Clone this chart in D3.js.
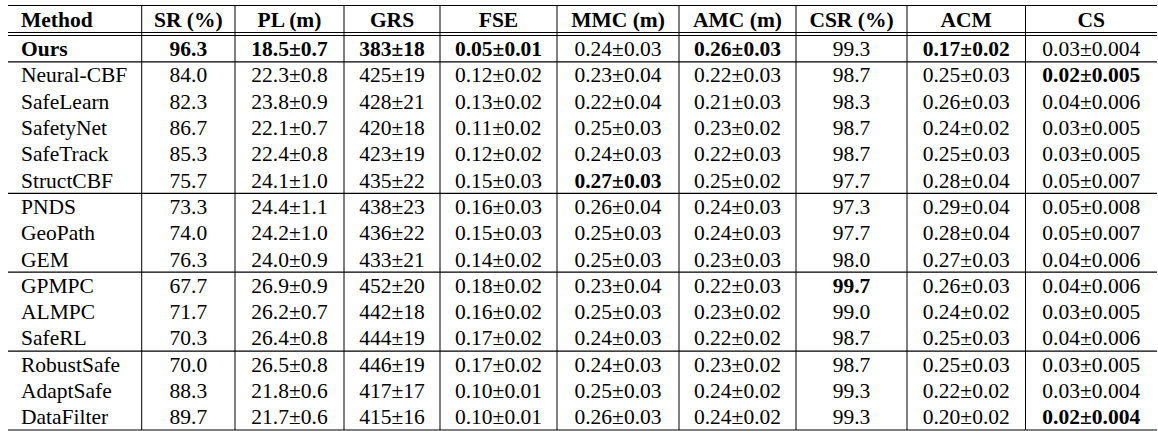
<!DOCTYPE html>
<html><head><meta charset="utf-8">
<script src="https://cdn.jsdelivr.net/npm/d3@7"></script>
<style>body{margin:0;background:#fff}</style>
</head><body><svg id="c" width="1158" height="431"></svg>
<script>
const headers = ["Method","SR (%)","PL (m)","GRS","FSE","MMC (m)","AMC (m)","CSR (%)","ACM","CS"];
const methods = ["Ours","Neural-CBF","SafeLearn","SafetyNet","SafeTrack","StructCBF","PNDS","GeoPath","GEM","GPMPC","ALMPC","SafeRL","RobustSafe","AdaptSafe","DataFilter"];
const SR  = ["96.3","84.0","82.3","86.7","85.3","75.7","73.3","74.0","76.3","67.7","71.7","70.3","70.0","88.3","89.7"];
const PL  = ["18.5±0.7","22.3±0.8","23.8±0.9","22.1±0.7","22.4±0.8","24.1±1.0","24.4±1.1","24.2±1.0","24.0±0.9","26.9±0.9","26.2±0.7","26.4±0.8","26.5±0.8","21.8±0.6","21.7±0.6"];
const GRS = ["383±18","425±19","428±21","420±18","423±19","435±22","438±23","436±22","433±21","452±20","442±18","444±19","446±19","417±17","415±16"];
const FSE = ["0.05±0.01","0.12±0.02","0.13±0.02","0.11±0.02","0.12±0.02","0.15±0.03","0.16±0.03","0.15±0.03","0.14±0.02","0.18±0.02","0.16±0.02","0.17±0.02","0.17±0.02","0.10±0.01","0.10±0.01"];
const MMC = ["0.24±0.03","0.23±0.04","0.22±0.04","0.25±0.03","0.24±0.03","0.27±0.03","0.26±0.04","0.25±0.03","0.25±0.03","0.23±0.04","0.25±0.03","0.24±0.03","0.24±0.03","0.25±0.03","0.26±0.03"];
const AMC = ["0.26±0.03","0.22±0.03","0.21±0.03","0.23±0.02","0.22±0.03","0.25±0.02","0.24±0.03","0.24±0.03","0.23±0.03","0.22±0.03","0.23±0.02","0.22±0.02","0.23±0.02","0.24±0.02","0.24±0.02"];
const CSR = ["99.3","98.7","98.3","98.7","98.7","97.7","97.3","97.7","98.0","99.7","99.0","98.7","98.7","99.3","99.3"];
const ACM = ["0.17±0.02","0.25±0.03","0.26±0.03","0.24±0.02","0.25±0.03","0.28±0.04","0.29±0.04","0.28±0.04","0.27±0.03","0.26±0.03","0.24±0.02","0.25±0.03","0.25±0.03","0.22±0.02","0.20±0.02"];
const CS  = ["0.03±0.004","0.02±0.005","0.04±0.006","0.03±0.005","0.03±0.005","0.05±0.007","0.05±0.008","0.05±0.007","0.04±0.006","0.04±0.006","0.03±0.005","0.04±0.006","0.03±0.005","0.03±0.004","0.02±0.004"];
// bold cells: [row, col]
const boldCells = [[0,0],[0,1],[0,2],[0,3],[0,4],[0,6],[0,8],[1,9],[5,5],[9,7],[14,9]];
const groupEnds = [0,5,8,11];
const colEdges = [8,141.7,235,344,440,557,679,796,907,1025.5,1157];

const cols = [methods,SR,PL,GRS,FSE,MMC,AMC,CSR,ACM,CS];
const svg = d3.select("#c");
const font = "'Liberation Serif','Times New Roman',serif";
const FS = 21.5;
const y = d3.scaleBand().domain(d3.range(methods.length)).range([35.5,430]);
const isBold = (r,c)=>boldCells.some(b=>b[0]===r&&b[1]===c);
const tx = c => c===0 ? 21 : (colEdges[c]+colEdges[c+1])/2;

const hy = (5.5+32.5)/2;
headers.forEach((h,c)=>{
  svg.append("text").attr("x",tx(c)).attr("y",hy)
    .attr("dy","0.35em").attr("text-anchor",c===0?"start":"middle")
    .attr("font-family",font).attr("font-size",FS).attr("font-weight","bold").text(h);
});
cols.forEach((arr,c)=>{
  arr.forEach((v,r)=>{
    svg.append("text").attr("x",tx(c))
      .attr("y",y(r)+y.bandwidth()/2).attr("dy","0.35em")
      .attr("text-anchor",c===0?"start":"middle")
      .attr("font-family",font).attr("font-size",FS)
      .attr("font-weight",isBold(r,c)?"bold":"normal").text(v);
  });
});
const hl = yy=>svg.append("line").attr("x1",colEdges[0]).attr("x2",colEdges[10]).attr("y1",yy).attr("y2",yy).attr("stroke","#000").attr("stroke-width",1.2);
hl(5.5); hl(32.5); hl(35.5); hl(430);
groupEnds.forEach(r=>hl(y(r)+y.bandwidth()));
colEdges.slice(1,10).forEach(x=>svg.append("line").attr("x1",x).attr("x2",x).attr("y1",5.5).attr("y2",430).attr("stroke","#000").attr("stroke-width",1));
</script></body></html>
